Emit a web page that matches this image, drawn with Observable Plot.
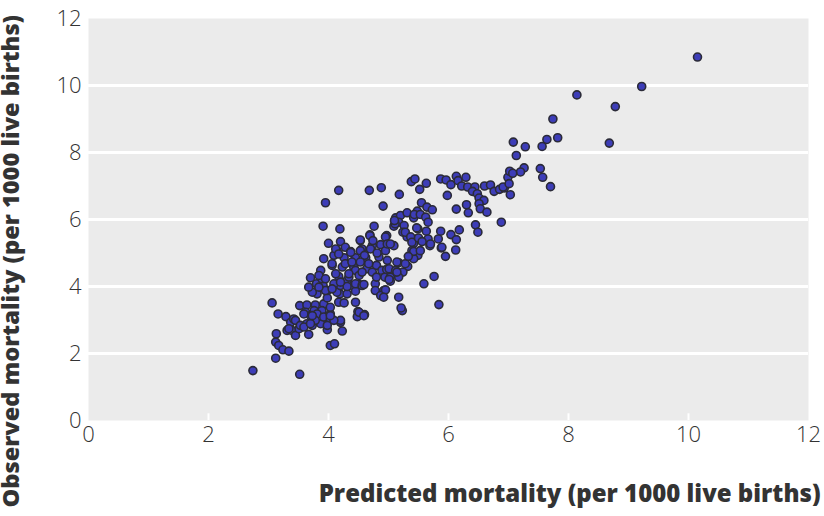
<!DOCTYPE html>
<html>
<head>
<meta charset="utf-8">
<script src="https://cdn.jsdelivr.net/npm/d3@7"></script>
<script src="https://cdn.jsdelivr.net/npm/@observablehq/plot@0.6"></script>
<style>
  html, body { margin: 0; padding: 0; background: #fff; }
  #chart { width: 824px; height: 516px; }
</style>
</head>
<body>
<div id="chart"></div>
<script>
const xTitle = "Predicted mortality (per 1000 live births)";
const yTitle = "Observed mortality (per 1000 live births)";
const xTicks = [0, 2, 4, 6, 8, 10, 12];
const yTicks = [0, 2, 4, 6, 8, 10, 12];
const gridValues = [2, 4, 6, 8, 10];

// predicted (x) and observed (y) mortality, per 1000 live births
const predicted = [
  2.74,3.12,3.06,3.16,3.29,3.13,3.12,3.17,3.24,3.34,3.31,3.37,3.42,3.39,3.45,3.34,3.45,
  3.52,3.51,3.53,3.67,3.73,3.87,3.98,3.52,3.64,3.78,3.92,3.62,3.76,3.89,3.70,3.81,3.92,3.78,3.64,3.59,3.98,3.81,3.73,3.67,3.91,3.80,3.89,3.70,3.87,3.84,3.98,3.59,3.73,3.70,3.95,3.84,3.95,3.92,3.91,3.95,
  4.03,4.03,4.23,4.20,4.03,4.10,4.03,4.45,4.49,4.60,4.48,4.17,4.26,4.19,4.14,4.31,4.37,4.51,4.45,4.20,4.31,4.20,4.09,3.98,
  4.17,4.19,4.20,4.00,4.28,4.14,4.37,4.09,4.26,4.45,4.06,4.23,4.42,4.17,4.34,4.09,4.31,4.12,4.17,4.37,4.06,4.28,4.39,4.45,4.34,4.12,4.20,4.45,4.06,4.03,
  4.68,4.88,4.76,4.69,4.53,4.56,4.73,4.87,4.62,4.84,4.64,4.80,4.51,4.56,4.78,4.59,4.78,4.92,4.87,4.53,4.69,4.74,4.97,4.53,4.70,4.60,4.81,4.95,4.53,4.67,4.98,4.56,4.73,4.89,4.80,4.94,4.95,4.92,4.51,4.59,4.91,4.95,4.98,4.97,
  5.18,5.38,5.44,5.52,5.12,5.20,5.31,5.09,5.17,5.26,5.42,5.48,5.24,5.31,5.49,5.47,5.42,5.09,5.39,5.49,5.42,5.17,5.32,5.01,5.12,5.24,5.03,5.17,5.17,5.23,5.11,5.03,5.14,5.28,5.03,5.43,5.10,5.28,5.47,5.37,5.39,5.50,5.42,5.01,5.21,5.14,5.33,
  5.63,5.87,5.96,5.98,5.55,5.64,5.73,5.53,5.62,5.66,5.63,5.87,5.83,5.66,5.56,5.69,5.88,5.95,5.76,5.59,5.84,5.70,5.53,5.89,
  6.04,6.13,6.16,6.29,6.22,6.32,6.44,6.40,6.48,6.13,6.30,6.33,6.45,6.49,6.04,6.18,6.13,6.12,
  6.51,6.59,6.60,6.70,6.76,6.85,6.93,6.51,6.53,6.64,6.88,6.99,6.91,
  10.15,9.22,8.14,8.78,7.74,7.08,7.28,7.64,7.82,7.56,8.68,7.13,7.26,7.20,7.02,7.07,7.53,7.57,7.70,7.01,7.03
];
const observed = [
  1.49,1.86,3.51,3.18,3.10,2.59,2.34,2.24,2.11,2.07,2.69,2.93,3.03,2.69,2.54,2.74,2.99,
  1.38,2.74,2.84,2.57,2.84,2.89,2.71,3.43,3.45,3.45,3.48,3.23,3.28,3.28,3.13,3.18,3.09,2.99,2.89,2.79,3.66,3.78,3.83,3.98,4.03,4.08,4.23,4.26,4.48,4.33,3.88,3.18,3.13,2.89,3.88,3.98,4.23,4.83,5.80,6.50,
  3.03,3.18,2.67,2.93,2.24,2.29,3.38,3.53,3.25,3.16,3.10,3.53,3.51,3.78,3.83,3.78,4.03,4.06,3.86,4.03,4.18,2.99,2.99,2.84,
  6.87,5.72,5.34,5.29,5.17,5.07,5.04,4.93,4.86,4.86,4.63,4.58,4.58,4.30,4.28,4.08,4.00,5.12,4.97,5.02,4.68,4.68,4.73,4.48,4.38,4.38,4.13,4.08,3.93,3.13,
  6.87,6.95,5.80,5.54,5.37,5.12,5.22,5.25,4.86,4.88,4.53,4.63,4.33,4.03,4.08,4.06,3.88,3.88,3.73,5.39,5.52,5.37,5.52,5.07,5.12,4.93,5.00,5.07,4.73,4.68,4.78,4.43,4.43,4.48,4.28,4.28,3.90,3.68,3.23,3.13,6.40,5.48,5.27,4.51,
  6.75,7.13,7.21,6.90,6.05,6.12,6.20,5.80,5.92,5.82,6.05,6.25,5.62,5.48,5.72,5.42,5.29,5.22,5.07,4.93,4.83,4.71,4.60,4.53,4.48,4.43,4.28,4.28,3.68,3.28,5.87,5.27,4.73,4.68,4.16,6.15,5.97,5.62,5.75,5.48,5.32,5.45,5.05,4.21,3.36,4.43,4.90,
  7.08,7.21,7.18,6.72,6.50,6.37,6.29,6.15,6.07,5.92,5.65,5.65,5.42,5.42,5.34,5.22,5.15,4.90,4.30,4.08,3.46,5.27,5.07,5.17,
  7.04,7.29,7.16,7.26,7.00,6.97,6.97,6.84,6.77,6.31,6.44,6.20,5.84,5.62,5.55,5.69,5.40,5.09,
  6.64,6.57,7.00,7.03,6.84,6.90,6.94,6.47,6.32,6.22,5.92,7.26,6.97,
  10.85,9.97,9.72,9.37,9.00,8.31,8.17,8.39,8.44,8.18,8.28,7.91,7.54,7.42,7.44,7.38,7.52,7.26,6.98,7.07,6.74
];

const points = predicted.map((x, i) => ({x, y: observed[i]}));

const font = "'Open Sans', 'Noto Sans', sans-serif";

const chart = Plot.plot({
  width: 824,
  height: 516,
  marginLeft: 88,
  marginRight: 16,
  marginTop: 18,
  marginBottom: 96,
  style: {fontFamily: font, fontSize: "22px", color: "#333", background: "#fff"},
  x: {domain: [0, 12], ticks: xTicks, label: null},
  y: {domain: [0, 12], ticks: yTicks, label: null},
  marks: [
    Plot.frame({fill: "#ebebeb", stroke: null}),
    Plot.ruleY(gridValues, {stroke: "#fff", strokeWidth: 3}),
    Plot.ruleX(xTicks.slice(1, -1), {y1: 0, y2: 0.2, stroke: "#fff", strokeWidth: 2}),
    Plot.axisX({ticks: xTicks, tickSize: 0, tickPadding: 6, fontSize: 22, fontWeight: 300, label: null}),
    Plot.axisY({ticks: yTicks, tickSize: 0, tickPadding: 7, fontSize: 22, fontWeight: 300, label: null}),
    Plot.dot(points, {x: "x", y: "y", r: 4, fill: "#3d3db8", stroke: "#2b2b38", strokeWidth: 1.6}),
    Plot.text([xTitle], {frameAnchor: "bottom-right", dx: 12, dy: 81, textAnchor: "end", fontSize: 24, fontWeight: 900, fill: "#333"}),
    Plot.text([yTitle], {frameAnchor: "bottom-left", dx: -70, dy: 87, rotate: -90, textAnchor: "start", fontSize: 23.6, fontWeight: 900, fill: "#333"})
  ]
});
document.getElementById("chart").appendChild(chart);
</script>
</body>
</html>
